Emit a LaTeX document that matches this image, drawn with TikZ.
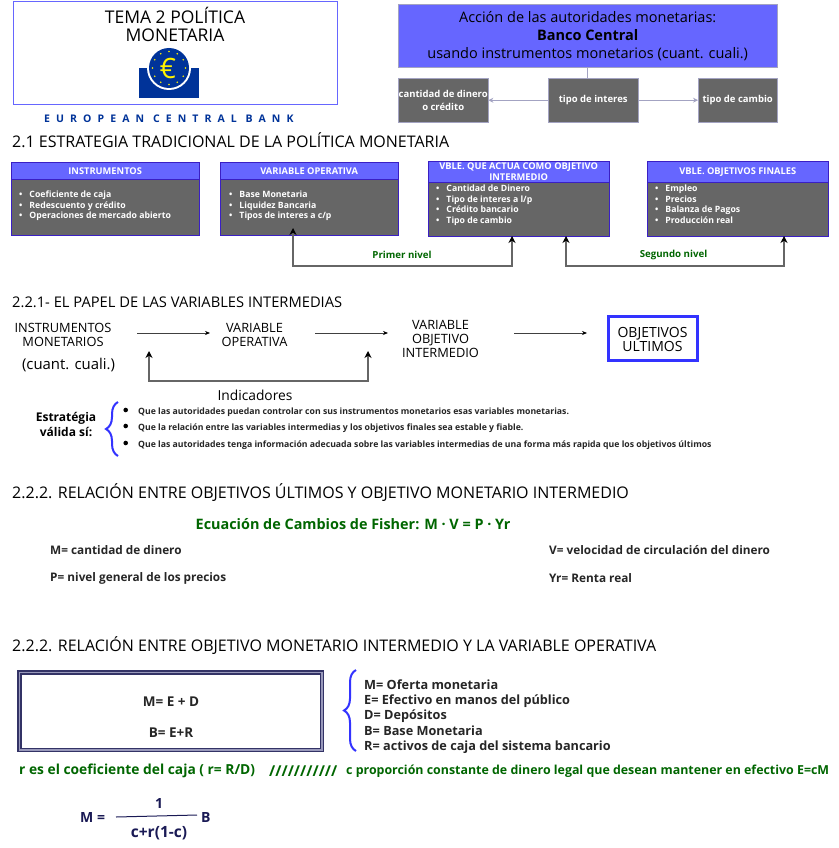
\documentclass[tikz,border=0pt]{standalone}
\usepackage{fontspec}
\usepackage{xcolor}
\usetikzlibrary{arrows.meta,positioning,calc,decorations.pathreplacing}
\setmainfont{Open Sans}
\definecolor{vi}{HTML}{6666FF}
\definecolor{gr}{HTML}{666666}
\definecolor{bd}{HTML}{3A1FC4}
\definecolor{lt}{HTML}{A3A3C2}
\definecolor{ln}{HTML}{666666}
\definecolor{vd}{HTML}{006600}
\definecolor{az}{HTML}{3333FF}
\definecolor{na}{HTML}{1A1A55}
\definecolor{ec}{HTML}{003399}
\definecolor{ma}{HTML}{333366}
\definecolor{mc}{HTML}{9999BB}
\newcommand{\bul}{\textbullet\hspace{7pt}}
\newcommand{\fs}[1]{\fontsize{#1}{#1}\selectfont}
\tikzset{
  seccion/.style={anchor=west, inner sep=0pt, font=\fs{16}, text=black},
  titulo/.style={align=center, inner sep=0pt, font=\fontsize{17.5}{18}\selectfont, text=black},
  gbox/.style={draw=lt, fill=gr, text=white, align=center, inner sep=0pt, font=\fontsize{9.5}{13.5}\selectfont\bfseries},
  cabe/.style={draw=bd, fill=vi, text=white, align=center, inner sep=0pt, anchor=north west, font=\fontsize{9.3}{11}\selectfont\bfseries},
  cuerpo/.style={draw=bd, fill=gr, anchor=north west},
  lista/.style={text=white, align=left, inner sep=0pt, anchor=north west, font=\fontsize{8.7}{10.7}\selectfont\bfseries},
  flujo/.style={align=center, inner sep=0pt, font=\fontsize{12.8}{13.6}\selectfont, text=black},
  nivel/.style={ln, line width=1.1pt, {Stealth[black,length=7pt,width=7pt]}-{Stealth[black,length=7pt,width=7pt]}},
  paso/.style={black!75, line width=0.7pt, -{Stealth[black,length=5pt,width=4pt]}},
  verde/.style={text=vd, inner sep=0pt, font=\fontsize{9.7}{11}\selectfont\bfseries},
  nota/.style={text=vd, inner sep=0pt, anchor=west},
  texto/.style={anchor=west, inner sep=0pt, font=\fontsize{11.8}{12}\selectfont\bfseries, text=black!85},
  peque/.style={anchor=west, inner sep=0pt, font=\fontsize{8.7}{9}\selectfont\bfseries, text=black!85},
  llave/.style={az, line width=2pt, decorate, decoration={brace, amplitude=12pt}},
  formula/.style={text=na, inner sep=0pt, font=\fontsize{14}{16}\selectfont\bfseries}
}
\begin{document}
\begin{tikzpicture}[x=1pt,y=-1pt]
  \useasboundingbox[fill=white] (0,0) rectangle (838,848);

  \node[draw=vi, line width=1.5pt, minimum width=324pt, minimum height=103pt, anchor=north west] (tema) at (12.5,1) {};
  \node[titulo] (temat) at (175,24) {TEMA 2 POLÍTICA\\MONETARIA};
  \fill[ec] (139,68) rectangle (199,98);
  \fill[white] (169,68) circle (22);
  \fill[ec] (169,68) circle (20);
  \foreach \a in {0,30,...,330} \fill[yellow] (169,68) ++(\a:16.5) circle (0.9);
  \node[text=yellow, inner sep=0pt, font=\fs{28}] (euro) at (168,68) {€};
  \node[anchor=west, inner sep=0pt, text=ec, font=\fs{10.5}\bfseries\addfontfeature{LetterSpace=58}] (ecb) at (44,118.5) {EUROPEAN CENTRAL BANK};

  \node[draw=lt, fill=vi, minimum width=379pt, minimum height=63pt, anchor=north west, inner sep=0pt, align=center, font=\fontsize{14.5}{18}\selectfont, text=black] (accion) at (398,4) {Acción de las autoridades monetarias:\\\textbf{Banco Central}\\usando instrumentos monetarios (cuant. cuali.)};
  \node[gbox, minimum width=90pt, minimum height=44pt, anchor=north west] (cant) at (398,78) {cantidad de dinero\\o crédito};
  \node[gbox, minimum width=90pt, minimum height=44pt, anchor=north west] (tipo) at (548,78) {tipo de interes};
  \node[gbox, minimum width=79pt, minimum height=44pt, anchor=north west] (camb) at (698,78) {tipo de cambio};
  \draw[lt, line width=0.8pt] (accion.south -| tipo.north) ++(-6,0) -- ++(0,11);
  \draw[lt, line width=1.2pt, -{Stealth[length=5pt,width=5pt]}] (tipo) -- (cant);
  \draw[lt, line width=1.2pt, -{Stealth[length=5pt,width=5pt]}] (tipo) -- (camb);

  \node[seccion] (sec21) at (12,140) {2.1 ESTRATEGIA TRADICIONAL DE LA POLÍTICA MONETARIA};

  \node[cuerpo, minimum width=188pt, minimum height=73pt] (inscu) at (11,162) {};
  \node[cabe, minimum width=188pt, minimum height=17pt] (insca) at (11,162) {INSTRUMENTOS};
  \node[lista] (insli) at (19,190.5) {\bul Coeficiente de caja\\\bul Redescuento y crédito\\\bul Operaciones de mercado abierto};

  \node[cuerpo, minimum width=178pt, minimum height=73pt] (opecu) at (220,162) {};
  \node[cabe, minimum width=178pt, minimum height=17pt] (opeca) at (220,162) {VARIABLE OPERATIVA};
  \node[lista] (opeli) at (229,190.5) {\bul Base Monetaria\\\bul Liquidez Bancaria\\\bul Tipos de interes a c/p};

  \node[cuerpo, minimum width=181pt, minimum height=75pt] (intcu) at (428,161) {};
  \node[cabe, minimum width=181pt, minimum height=21pt] (intca) at (428,161) {VBLE. QUE ACTUA COMO OBJETIVO\\INTERMEDIO};
  \node[lista] (intli) at (436,184.5) {\bul Cantidad de Dinero\\\bul Tipo de interes a l/p\\\bul Crédito bancario\\\bul Tipo de cambio};

  \node[cuerpo, minimum width=181pt, minimum height=75pt] (fincu) at (647,161) {};
  \node[cabe, minimum width=181pt, minimum height=21pt] (finca) at (647,161) {VBLE. OBJETIVOS FINALES};
  \node[lista] (finli) at (655,184.5) {\bul Empleo\\\bul Precios\\\bul Balanza de Pagos\\\bul Producción real};

  \coordinate (n1a) at (293,228);
  \coordinate (n1b) at (512,236);
  \coordinate (n2a) at (566,236);
  \coordinate (n2b) at (784,236);
  \draw[nivel] (n1a) -- (293,266) -- (512,266) -- (n1b);
  \draw[nivel] (n2a) -- (566,266) -- (784,266) -- (n2b);
  \node[verde] (prim) at (402,255) {Primer nivel};
  \node[verde] (segu) at (673.5,255) {Segundo nivel};

  \node[seccion, font=\fs{14.7}] (sec221) at (12,302) {2.2.1- EL PAPEL DE LAS VARIABLES INTERMEDIAS};
  \node[flujo] (instr) at (63,335) {INSTRUMENTOS\\MONETARIOS};
  \node[inner sep=0pt, font=\fs{14.9}, text=black] (cuant) at (68.5,365) {(cuant. cuali.)};
  \node[flujo] (vope) at (254.5,335) {VARIABLE\\OPERATIVA};
  \node[flujo] (vint) at (440.5,339) {VARIABLE\\OBJETIVO\\INTERMEDIO};
  \node[draw=az, line width=3pt, minimum width=89pt, minimum height=44pt] (ulti) at (653,338.5) {};
  \node[flujo, font=\fontsize{14}{14}\selectfont] (ultit) at (652.5,339) {OBJETIVOS\\ULTIMOS};
  \draw[paso] (137,333) -- (210,333);
  \draw[paso] (315,333) -- (388,333);
  \draw[paso] (514,333) -- (587,333);
  \draw[nivel] (149,351) -- (149,381) -- (368,381) -- (368,351);
  \node[inner sep=0pt, font=\fs{13.8}, text=black] (indi) at (255,395) {Indicadores};
  \node[flujo, font=\fontsize{12}{15}\selectfont\bfseries] (estr) at (66,424.5) {Estratégia\\válida sí:};
  \draw[llave] (118,456) -- (118,402);
  \foreach \y in {410,426,443} \fill (125.7,\y) circle (2.3);
  \node[peque] (cond1) at (138,412) {Que las autoridades puedan controlar con sus instrumentos monetarios esas variables monetarias.};
  \node[peque] (cond2) at (138,428) {Que la relación entre las variables intermedias y los objetivos finales sea estable y fiable.};
  \node[peque] (cond3) at (138,445) {Que las autoridades tenga información adecuada sobre las variables intermedias de una forma más rapida que los objetivos últimos};

  \node[seccion] (sec222) at (12,493) {2.2.2. RELACIÓN ENTRE OBJETIVOS ÚLTIMOS Y OBJETIVO MONETARIO INTERMEDIO};
  \node[verde, font=\fontsize{14.4}{15}\selectfont\bfseries] (fish) at (353,524) {Ecuación de Cambios de Fisher: M · V = P · Yr};
  \node[texto] (dm) at (50,550) {M= cantidad de dinero};
  \node[texto] (dp) at (50,578) {P= nivel general de los precios};
  \node[texto] (dv) at (549,550) {V= velocidad de circulación del dinero};
  \node[texto] (dy) at (549,578) {Yr= Renta real};

  \node[seccion] (sec223) at (12,646) {2.2.2. RELACIÓN ENTRE OBJETIVO MONETARIO INTERMEDIO Y LA VARIABLE OPERATIVA};
  \node[draw=ma, double=mc, line width=1.5pt, double distance=1.5pt, minimum width=302.5pt, minimum height=77.5pt, inner sep=0pt] (caja) at (170.5,711) {};
  \node[texto, anchor=center, font=\fontsize{13.5}{14}\selectfont\bfseries] (eq1) at (171,702) {M= E + D};
  \node[texto, anchor=center, font=\fontsize{13.5}{14}\selectfont\bfseries] (eq2) at (171,733) {B= E+R};
  \draw[llave] (356,751) -- (356,670);
  \node[anchor=north west, align=left, inner sep=0pt, text=black!85, font=\fontsize{12.7}{15.2}\selectfont\bfseries] (defs) at (364,679.5) {M= Oferta monetaria\\E= Efectivo en manos del público\\D= Depósitos\\B= Base Monetaria\\R= activos de caja del sistema bancario};
  \node[nota, font=\fs{13.8}\bfseries] (nota1) at (19,771) {r es el coeficiente del caja ( r= R/D)};
  \node[nota, font=\fs{15}\bfseries] (nota2) at (269,771) {///////////};
  \node[nota, font=\fs{12.4}\bfseries] (nota3) at (346,771) {c proporción constante de dinero legal que desean mantener en efectivo E=cM};
  \node[formula, anchor=west] (fm) at (80,817) {M =};
  \node[formula] (fn) at (159,803) {1};
  \node[formula, font=\fontsize{15.5}{16}\selectfont\bfseries] (fd) at (159,833) {c+r(1-c)};
  \node[formula, anchor=west] (fb) at (201,817) {B};
  \draw[na, line width=1pt] (fm.east -| 116,815) -- (197,815);
\end{tikzpicture}
\end{document}
